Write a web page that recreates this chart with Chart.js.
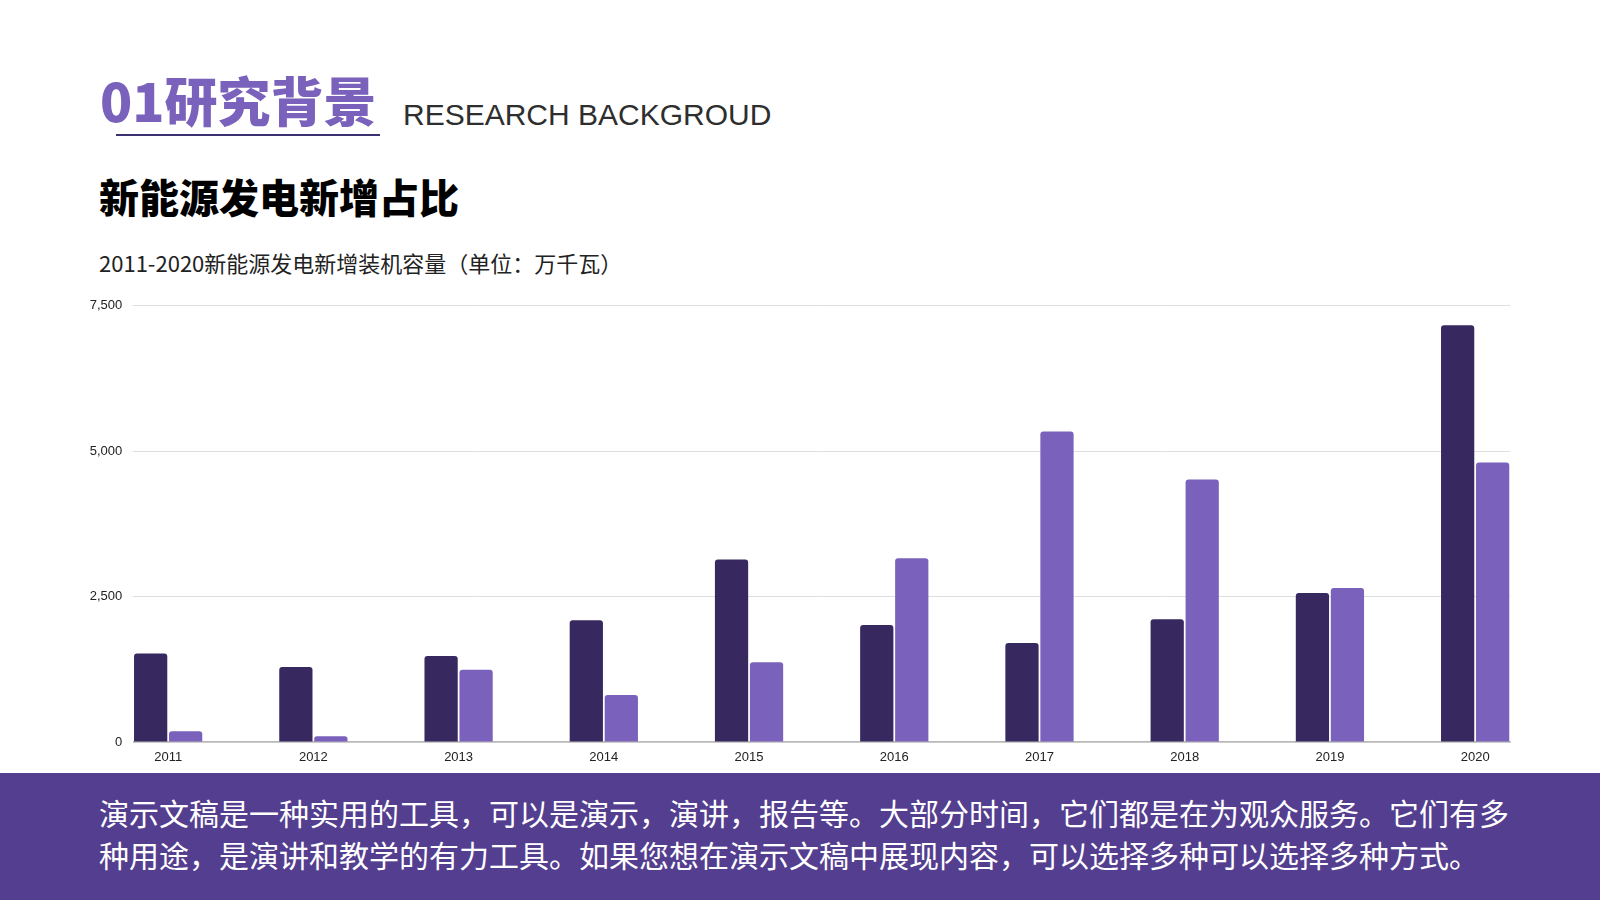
<!DOCTYPE html>
<html>
<head>
<meta charset="utf-8">
<script src="https://cdn.jsdelivr.net/npm/chart.js@4.4.1/dist/chart.umd.min.js"></script>
<style>
  html, body { margin: 0; padding: 0; background: #ffffff; }
  body { width: 1600px; height: 900px; position: relative; overflow: hidden; font-family: "Noto Sans CJK SC", "Noto Sans", sans-serif; }
  .abs { position: absolute; white-space: nowrap; }
  #t1 { left: 100px; top: 73px; font-size: 53px; line-height: 53px; font-weight: 900; color: #7a61bb; }
  #uline { left: 116px; top: 134px; width: 264px; height: 2px; background: #3b3170; }
  #t2 { left: 403px; top: 100px; font-family: "Liberation Sans", Arial, sans-serif; font-size: 30px; line-height: 30px; color: #2e2e2e; }
  #t3 { left: 99px; top: 176px; font-size: 40px; line-height: 40px; font-weight: 900; color: #000; }
  #t4 { left: 99px; top: 251px; font-size: 22px; line-height: 22px; color: #222; }
  #chartBox { position: absolute; left: 0px; top: 287px; width: 1520px; height: 483px; }
  #band { position: absolute; left: 0; top: 773px; width: 1600px; height: 127px; background: #543e8f; }
  #bandText { position: absolute; left: 99px; top: 791px; width: 1420px; font-size: 30px; line-height: 42px; color: #ffffff; white-space: normal; }
</style>
</head>
<body>
<div id="t1" class="abs">01研究背景</div>
<div id="uline" class="abs"></div>
<div id="t2" class="abs">RESEARCH BACKGROUD</div>
<div id="t3" class="abs">新能源发电新增占比</div>
<div id="t4" class="abs">2011-2020新能源发电新增装机容量（单位：万千瓦）</div>
<div id="chartBox"><canvas id="c"></canvas></div>
<div id="band"></div>
<div id="bandText">演示文稿是一种实用的工具，可以是演示，演讲，报告等。大部分时间，它们都是在为观众服务。它们有多种用途，是演讲和教学的有力工具。如果您想在演示文稿中展现内容，可以选择多种可以选择多种方式。</div>
<script>
// ---- data ----
const years = [2011, 2012, 2013, 2014, 2015, 2016, 2017, 2018, 2019, 2020];
const seriesDark = [1520, 1290, 1480, 2095, 3136, 2010, 1704, 2112, 2560, 7164];
const seriesLight = [185, 100, 1242, 810, 1370, 3158, 5337, 4515, 2648, 4807];
const yTicks = [0, 2500, 5000, 7500];
const seriesNames = ['系列1', '系列2'];

const toPoints = arr => years.map((yr, i) => ({ x: yr, y: arr[i] }));

new Chart(document.getElementById('c'), {
  type: 'bar',
  data: {
    datasets: [
      { label: seriesNames[0], data: toPoints(seriesDark), backgroundColor: '#37295f', borderRadius: 3, borderSkipped: 'bottom',
        categoryPercentage: 0.482, barPercentage: 0.95 },
      { label: seriesNames[1], data: toPoints(seriesLight), backgroundColor: '#7a61bb', borderRadius: 3, borderSkipped: 'bottom',
        categoryPercentage: 0.482, barPercentage: 0.95 }
    ]
  },
  options: {
    responsive: true,
    maintainAspectRatio: false,
    animation: false,
    layout: { padding: { top: 12, right: 10, left: 0, bottom: 0 } },
    plugins: { legend: { display: false }, tooltip: { enabled: false } },
    scales: {
      x: {
        type: 'linear',
        offset: false,
        min: years[0] - 0.24,
        max: years[years.length - 1] + 0.24,
        afterBuildTicks: s => { s.ticks = years.map(v => ({ value: v })); },
        afterFit: s => { s.height = 28; },
        grid: { display: false, drawTicks: false, offset: false },
        border: { display: true, color: '#b8b8b8', width: 1.5 },
        ticks: {
          autoSkip: false, maxRotation: 0, padding: 8,
          color: '#222', font: { family: 'Liberation Sans', size: 13 },
          callback: v => String(v)
        }
      },
      y: {
        min: yTicks[0],
        max: yTicks[yTicks.length - 1],
        afterBuildTicks: s => { s.ticks = yTicks.map(v => ({ value: v })); },
        afterFit: s => { s.width = 133.3; },
        grid: { color: '#dedede', lineWidth: 1, drawTicks: false },
        border: { display: false },
        ticks: {
          padding: 11, color: '#222', font: { family: 'Liberation Sans', size: 13 },
          callback: v => v.toLocaleString('en-US')
        }
      }
    }
  }
});
</script>
</body>
</html>
